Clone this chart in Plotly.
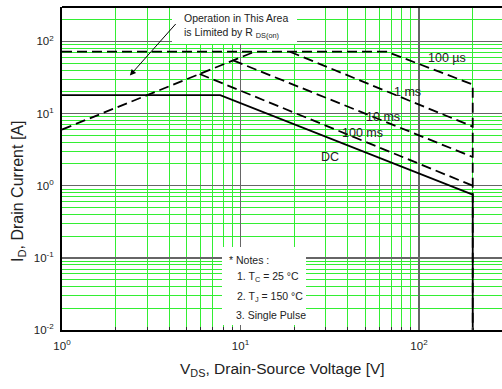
import numpy as np
import plotly.graph_objects as go

# ---------------- data ----------------
# Safe Operating Area curves: drain-source voltage [V] vs drain current [A]
rds_v = [1.0, 12.0]
rds_i = [6.0, 72.0]

us100_v = [1.0, 66.0, 200.0, 200.0]
us100_i = [72.0, 72.0, 25.3, 0.01]

ms1_v = [18.9, 200.0]
ms1_i = [72.0, 6.6]

ms10_v = [9.1, 200.0]
ms10_i = [54.6, 2.5]

ms100_v = [5.9, 200.0]
ms100_i = [35.4, 1.0]

dc_v = [1.0, 7.7, 200.0, 200.0]
dc_i = [18.0, 18.0, 0.75, 0.01]

x_tick_vals = [1, 10, 100]
x_tick_text = ["10<sup>0</sup>", "10<sup>1</sup>", "10<sup>2</sup>"]
y_tick_vals = [0.01, 0.1, 1, 10, 100]
y_tick_text = ["10<sup>-2</sup>", "10<sup>-1</sup>", "10<sup>0</sup>", "10<sup>1</sup>", "10<sup>2</sup>"]

curve_labels = ["100 \u00b5s", "1 ms", "10 ms", "100 ms", "DC"]
label_pos_v = [143.5, 86.7, 62.8, 48.0, 31.7]
label_pos_i = [58.0, 19.6, 9.1, 5.3, 2.53]

notes = ["* Notes :", "1. T<sub>C</sub> = 25 \u00b0C", "2. T<sub>J</sub> = 150 \u00b0C", "3. Single Pulse"]

# ---------------- figure ----------------
FONT = "Liberation Sans, Arial, sans-serif"
DASH = "10px,5px"
LW = 1.8
TXT = "#222222"

fig = go.Figure()
for v, i, d in [(rds_v, rds_i, DASH), (us100_v, us100_i, DASH), (ms1_v, ms1_i, DASH),
                (ms10_v, ms10_i, DASH), (ms100_v, ms100_i, DASH), (dc_v, dc_i, "solid")]:
    fig.add_trace(go.Scatter(x=v, y=i, mode="lines",
                             line=dict(color="black", width=LW, dash=d),
                             hoverinfo="skip", showlegend=False))

minor_vals = [m * 10 ** e for e in range(-2, 3) for m in range(2, 10)]

fig.update_xaxes(type="log", range=[0, 2.465],
                 tickvals=x_tick_vals, ticktext=x_tick_text,
                 showgrid=True, gridcolor="#666666", gridwidth=1.5,
                 showline=True, linecolor="black", linewidth=2, mirror=False,
                 ticks="", ticklabelstandoff=4, tickfont=dict(family=FONT, size=11.5, color=TXT),
                 minor=dict(tickvals=minor_vals, showgrid=True, gridcolor="#33ee33",
                            gridwidth=1, ticks="inside", ticklen=3, tickcolor="#333"),
                 zeroline=False)
fig.update_yaxes(type="log", range=[-2, np.log10(300)],
                 tickvals=y_tick_vals, ticktext=y_tick_text,
                 showgrid=True, gridcolor="#666666", gridwidth=1.5,
                 showline=True, linecolor="black", linewidth=2, mirror=False,
                 ticks="", ticklabelstandoff=4, tickfont=dict(family=FONT, size=11.5, color=TXT),
                 minor=dict(tickvals=minor_vals, showgrid=True, gridcolor="#33ee33",
                            gridwidth=1),
                 zeroline=False)

W, H = 502, 389
L, T, B = 62, 7, 59
PW, PH = W - L, H - T - B


def px(xp):
    return (xp - L) / PW


def py(yp):
    return (H - B - yp) / PH


shapes = [
    # top frame line
    dict(type="line", xref="paper", yref="paper", x0=0, x1=1, y0=1, y1=1,
         line=dict(color="black", width=2), layer="above"),
    # white boxes behind texts
    dict(type="rect", xref="paper", yref="paper", x0=px(172), x1=px(297), y0=py(44), y1=py(8),
         fillcolor="white", line=dict(width=0), layer="above"),
    dict(type="rect", xref="paper", yref="paper", x0=px(222), x1=px(306), y0=py(325), y1=py(247),
         fillcolor="white", line=dict(width=0), layer="above"),
]

ann = []
for t, v, i in zip(curve_labels, label_pos_v, label_pos_i):
    ann.append(dict(x=np.log10(v), y=np.log10(i), xref="x", yref="y", text=t, showarrow=False,
                    font=dict(family=FONT, size=12.5, color=TXT)))

ann.append(dict(xref="paper", yref="paper", x=px(182), y=py(10), xanchor="left", yanchor="top",
                align="left", showarrow=False,
                text="Operation in This Area<br>is Limited by R <sub>DS(on)</sub>",
                font=dict(family=FONT, size=10.5, color=TXT)))
# arrow
ann.append(dict(x=np.log10(2.4), y=np.log10(33.7), ax=np.log10(4.41), ay=np.log10(183),
                xref="x", yref="y", axref="x", ayref="y", text="", showarrow=True,
                arrowhead=2, arrowsize=1.2, arrowwidth=1, arrowcolor="black"))

note_x = [227, 235, 235, 234]
note_y = [260, 277, 297, 315]
for t, xx, yy in zip(notes, note_x, note_y):
    ann.append(dict(xref="paper", yref="paper", x=px(xx), y=py(yy), xanchor="left", yanchor="middle",
                    align="left", showarrow=False, text=t,
                    font=dict(family=FONT, size=10.5, color=TXT)))

# axis titles
ann.append(dict(xref="paper", yref="paper", x=px(282), y=py(369), xanchor="center", yanchor="middle",
                showarrow=False, text="V<sub>DS</sub>, Drain-Source Voltage [V]",
                font=dict(family=FONT, size=15.5, color=TXT)))
ann.append(dict(xref="paper", yref="paper", x=px(19), y=py(192), xanchor="center", yanchor="middle",
                showarrow=False, textangle=-90, text="I<sub>D</sub>, Drain Current [A]",
                font=dict(family=FONT, size=16, color=TXT)))

fig.update_layout(width=W, height=H, margin=dict(l=L, r=0, t=T, b=B, pad=0),
                  paper_bgcolor="white", plot_bgcolor="white",
                  shapes=shapes, annotations=ann, showlegend=False)

fig.write_html("out.html", config={"displayModeBar": False, "staticPlot": True},
               post_script="document.body.style.margin='0';document.body.style.overflow='hidden';")
